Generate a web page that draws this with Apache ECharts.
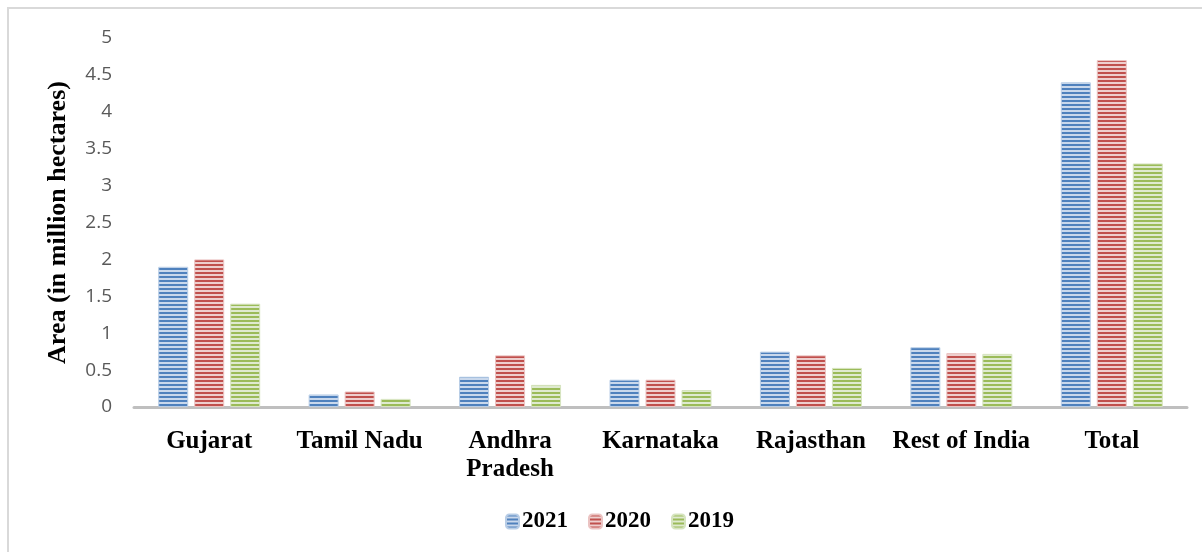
<!DOCTYPE html>
<html>
<head>
<meta charset="utf-8">
<script src="https://cdn.jsdelivr.net/npm/echarts@6/dist/echarts.min.js"></script>
<style>
  html, body { margin: 0; padding: 0; background: #fff; }
</style>
</head>
<body>
<div id="areaChart" style="width:1202px;height:552px;"></div>
<script>
// values (million hectares)
const states = ['Gujarat', 'Tamil Nadu', 'Andhra\nPradesh', 'Karnataka', 'Rajasthan', 'Rest of India', 'Total'];
const years = ['2021', '2020', '2019'];
const area2021 = [1.9, 0.17, 0.41, 0.37, 0.75, 0.81, 4.4];
const area2020 = [2.0, 0.21, 0.7, 0.37, 0.7, 0.73, 4.7];
const area2019 = [1.4, 0.11, 0.3, 0.23, 0.53, 0.72, 3.3];

// horizontal stripe fill, like the office "narrow horizontal" pattern
function stripes(dark, light) {
  const c = document.createElement('canvas');
  c.width = 4; c.height = 4;
  const g = c.getContext('2d');
  g.fillStyle = light; g.fillRect(0, 0, 4, 4);
  g.fillStyle = dark; g.fillRect(0, 0, 4, 2);
  return { image: c, repeat: 'repeat' };
}
const fills = [
  stripes('#4f81bd', '#c9d8ec'),
  stripes('#c0504d', '#eecfce'),
  stripes('#9bbb59', '#dfead0')
];
const edges = ['#b8cde6', '#ebc3c2', '#d6e4bf'];
const data = [area2021, area2020, area2019];

const myChart = echarts.init(document.getElementById('areaChart'));
const option = {
  animation: false,
  backgroundColor: '#fff',
  graphic: [{
    type: 'rect',
    shape: { x: 8, y: 8, width: 1220, height: 580 },
    style: { fill: 'none', stroke: '#d9d9d9', lineWidth: 2 },
    silent: true
  }],
  grid: { left: 134, right: 15, top: 38, bottom: 145 },
  legend: {
    bottom: 14,
    left: 500,
    itemWidth: 13,
    itemHeight: 14,
    itemGap: 20,
    textStyle: { fontFamily: 'Liberation Serif', fontWeight: 'bold', fontSize: 23, color: '#000', padding: [0, 0, 0, -2] },
    data: years
  },
  xAxis: {
    type: 'category',
    data: states,
    axisLine: { lineStyle: { color: '#bfbfbf', width: 3 } },
    axisTick: { show: false },
    axisLabel: {
      margin: 21,
      interval: 0,
      fontFamily: 'Liberation Serif',
      fontWeight: 'bold',
      fontSize: 25,
      lineHeight: 28,
      color: '#000'
    }
  },
  yAxis: {
    type: 'value',
    min: 0,
    max: 5,
    interval: 0.5,
    name: 'Area (in million hectares)',
    nameLocation: 'middle',
    nameGap: 63,
    nameTextStyle: { fontFamily: 'Liberation Serif', fontWeight: 'bold', fontSize: 26, color: '#000' },
    axisLine: { show: false },
    axisTick: { show: false },
    splitLine: { show: false },
    axisLabel: { margin: 22, fontFamily: 'Open Sans', fontSize: 19, color: '#595959' }
  },
  series: years.map((y, i) => ({
    name: y,
    type: 'bar',
    data: data[i],
    barWidth: 30,
    barGap: '20%',
    itemStyle: { color: fills[i], borderColor: edges[i], borderWidth: 1 }
  }))
};
myChart.setOption(option);
</script>
</body>
</html>
